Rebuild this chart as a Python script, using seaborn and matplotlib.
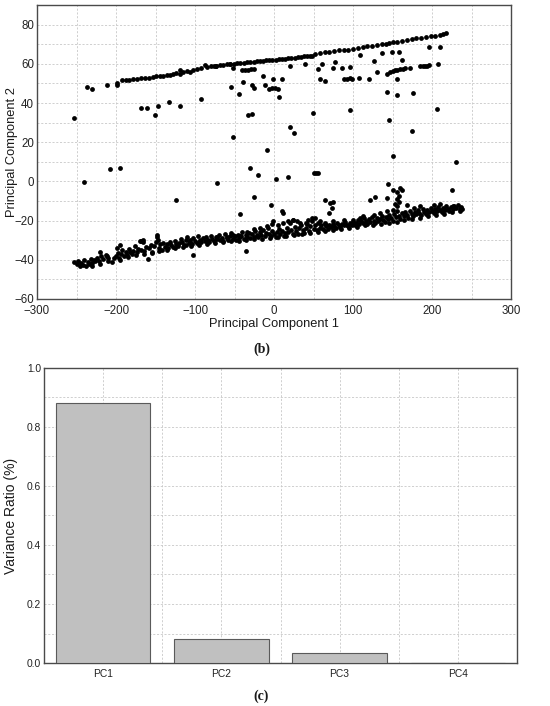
import numpy as np
import pandas as pd
import matplotlib
matplotlib.use("Agg")
import matplotlib.pyplot as plt
from matplotlib.ticker import MultipleLocator
import seaborn as sns

# ---------------- data: PCA scores ----------------
# upper band
upper_x = [-237, -230, -212, -199, -199, -193, -188, -183, -178, -173, -168, -163, -158, -153,
           -149, -144, -140, -136, -132, -128, -124, -119, -119, -115, -110, -106, -102, -98,
           -93, -88, -85, -80, -76, -73, -68, -64, -60, -56, -51, -47, -43, -38, -34, -30,
           -26, -22, -18, -14, -10, -6, -2, 2, 6, 10, 14, 18, 22, 26, 30, 34, 38, 42, 46, 48,
           52, 58, 64, 70, 76, 82, 88, 94, 100, 106, 112, 118, 124, 130, 136, 142, 146, 150,
           156, 162, 168, 174, 180, 186, 192, 198, 204, 210, 214, 218]
upper_y = [48.1, 47.0, 49.0, 50.0, 49.3, 51.5, 51.7, 51.9, 52.0, 52.3, 52.6, 52.9, 53.0, 53.2,
           53.7, 53.9, 54.0, 54.2, 54.5, 54.8, 55.2, 55.0, 57.0, 55.8, 56.3, 56.0, 57.0, 57.3,
           58.0, 59.4, 58.2, 58.8, 59.1, 59.0, 59.6, 59.4, 59.8, 59.7, 60.1, 60.3, 60.4, 60.6,
           60.8, 60.9, 61.1, 61.2, 61.4, 61.6, 61.7, 61.8, 62.0, 62.1, 62.3, 62.4, 62.6, 62.8,
           63.0, 63.1, 63.3, 63.5, 63.8, 64.0, 64.2, 64.0, 65.0, 65.5, 65.8, 66.0, 66.3, 66.8,
           67.0, 67.3, 67.6, 68.0, 68.5, 69.0, 69.2, 69.5, 70.0, 70.3, 70.6, 71.0, 71.3, 71.7,
           72.2, 72.5, 73.0, 73.3, 73.5, 74.0, 74.3, 74.6, 75.0, 75.6]

# outliers and secondary branch
mid_x = [-73, -56, -51.5, -40, -37, -33, -29, -26, -253.5, -240, -208, -195, -168, -161, -151,
         -147.5, -133, -119, -124.6, -92.5, -103, -72, -55, -45, -51.5, -42.7, -39, -32.5, -28,
         -30, -26, -20, -35.5, -28, -26, -13.5, -12, -6, -3, 1.3, 4.6, -1.7, 9.7, 6.8, -9.3,
         -4.2, 2, 9.7, 11, 18.2, 20.3, 25.3, 20.3, 39.3, 49, 50, 53, 56, 56, 58, 64.6, 60.4,
         64.6, 71, 75, 73, 69, 77, 75, 86, 88, 92, 96, 98.4, 107, 96.3, 95.5, 109, 119.6, 126,
         130, 136.5, 143, 147, 150, 153, 156, 160, 163, 166, 149, 157.6, 162, 155, 143, 156,
         171.5, 176, 174.5, 145, 150, 144, 143, 122, 128, 185, 188, 191, 194, 196, 196, 208,
         209.5, 206, 225, 230, 151, 155, 160, 162, 157.6, 155, 157.6, 153]
mid_y = [59.0, 59.7, 58.0, 57.0, 56.8, 57.0, 57.2, 57.2, 32.1, -0.5, 6.5, 6.8, 37.5, 37.5,
         34.0, 38.4, 40.4, 38.7, -9.4, 42.1, -37.7, -0.8, 48.1, 44.7, 22.5, -16.5, 50.7, 34.1,
         34.5, 6.7, -8.0, 3.1, -35.3, 49.0, 47.8, 54.0, 49.0, 47.0, 47.8, 47.8, 47.3, 52.0,
         52.5, 43.2, 16.0, -11.9, 1.2, -15.3, -16.2, 2.1, 27.8, 24.7, 58.9, 59.7, 35.0, 4.2,
         4.2, 4.2, 57.5, 52.0, 51.2, 59.7, -9.4, -11.0, -10.7, -13.6, -16.2, 60.9, 58.0, 58.0,
         52.4, 52.5, 52.6, 52.5, 52.9, 58.5, 36.2, 64.3, 52.5, 61.4, 55.8, 65.7, 55.0, 56.0,
         56.3, 56.6, 56.8, 57.1, 57.5, 58.0, 66.0, 66.0, 61.7, 52.4, 45.5, 44.3, 58.0, 44.9,
         25.6, 31.2, 13.2, -1.2, -8.5, -9.4, -8.2, 58.9, 59.0, 59.0, 58.8, 59.2, 68.7, 59.7,
         68.7, 36.7, -4.6, 9.7, -4.2, -5.2, -3.5, -4.2, -7.4, -9.1, -10.4, -11.6]

# lower band
low_x = [-253, -250, -248, -246, -244, -242, -240, -238, -236, -234, -232, -230, -228, -226,
         -224, -222, -219, -216, -213, -210, -205, -202, -200, -198, -196, -194, -192, -190,
         -188, -186, -184, -182, -180, -178, -176, -174, -172, -170, -168, -166, -164, -162,
         -160, -158, -156, -154, -152, -150, -148, -147, -146, -144, -142, -140, -138, -136,
         -134, -132, -130, -128, -126, -124, -122, -120, -118, -116, -114, -112, -110, -108,
         -106, -104, -102, -100, -98, -96, -94, -92, -90, -88, -86, -84, -82, -80, -78, -76,
         -74, -72, -70, -68, -66, -64, -62, -60, -58, -56, -54, -52, -50, -48, -46, -44, -42,
         -40, -38, -36, -34, -32, -30, -28, -26, -24, -22, -20, -18, -16, -14, -12, -10, -8,
         -6, -4, -2, 0, 2, 4, 6, 8, 10, 12, 14, 16, 18, 20, 22, 24, 26, 28, 30, 32, 34, 36, 38,
         40, 42, 44, 46, 48, 50, 52, 54, 56, 58, 60, 62, 64, 66, 68, 70, 72, 74, 76, 78, 80,
         82, 84, 86, 88, 90, 92, 94, 96, 98, 100, 102, 104, 106, 108, 110, 112, 114, 116, 118,
         120, 122, 124, 126, 128, 130, 132, 134, 136, 138, 140, 142, 144, 146, 148, 150, 152,
         154, 156, 158, 160, 162, 164, 166, 168, 170, 172, 174, 176, 178, 180, 182, 184, 186,
         188, 190, 192, 194, 196, 198, 200, 202, 204, 206, 208, 210, 212, 214, 216, 218, 220,
         222, 224, 226, 228, 230, 233, 236, 238]
low_y = [-41, -42, -40.5, -43, -41.5, -42.5, -40, -43, -41, -42, -39.5, -41.5, -40, -40.5,
         -39, -40.5, -38, -39.5, -37.5, -39, -41, -39, -38, -36.5, -39, -37, -35, -38, -36,
         -37.5, -34.5, -36, -37, -35.5, -33, -36, -34.5, -30.5, -35, -31, -35.5, -33.5, -39.5,
         -34, -32.5, -36.5, -33, -31, -27.5, -30, -34, -32, -35, -31.5, -33.5, -32, -34, -31,
         -32.5, -33.5, -30.5, -32, -33, -31.5, -29.5, -31, -32.5, -30, -28.5, -31.5, -30, -32,
         -29, -30.5, -31.5, -28, -30, -31, -29, -30.5, -28.5, -30, -31, -28, -29.5, -30.5,
         -28.5, -29.5, -27.5, -30, -29, -30.5, -27, -29, -30, -28, -26.5, -29.5, -28, -30,
         -27.5, -29, -28, -26, -29.5, -27.5, -28.5, -26.5, -29, -27, -28.5, -25.5, -27.5, -28.5,
         -26, -27.5, -25, -28, -26.5, -24, -27, -28, -25.5, -27, -28.5, -26, -24.5, -27, -25.5,
         -28, -26.5, -24, -26, -21, -25, -27, -23.5, -25.5, -27, -24, -22, -25, -26.5, -24,
         -21.5, -25.5, -23, -20, -24.5, -22.5, -25, -21, -24, -22.5, -24.5, -21.5, -23, -24.5,
         -22, -23.5, -21.5, -23, -24, -21, -22.5, -23.5, -21.5, -22.5, -20.5, -22, -23, -21,
         -22, -20.5, -22.5, -21, -19.5, -21.5, -20, -21, -18.5, -20, -21.5, -19, -20.5, -18,
         -20, -21, -18.5, -20, -19, -17.5, -19.5, -20.5, -18, -19, -17, -18.5, -20, -16.5, -18,
         -15, -17.5, -19, -16, -17.5, -15.5, -17, -18.5, -15, -16.5, -17.5, -15.5, -16.5,
         -14.5, -16, -17, -14, -15.5, -16.5, -14.5, -15.5, -13.5, -15, -16, -14, -15, -13,
         -14.5, -15.5, -13.5, -14.5, -12.5, -14, -15, -13, -14, -12.5, -13.5, -12, -13, -14]

edge_x = [-230, -220, -210, -195, -185, -175, -165, -155, -145, -135, -125, -115, -105, -95,
          -85, -75, -65, -55, -45, -35, -25, -15, -5, 5, 15, 25, 35, 45, 55, 65, 75, 85, 95,
          105, 115, 125, 135, 145, 155, 165, 175, 185, 195, 205, 215, 225, 235,
          -199, -195, -220.5, -212, -148, -165.6, -168, -111, -106.5, -94, -72.7, -60, -51.5,
          -43, -34.6, -26, -17.7, -9.3, -3, 5.5, 11.8, 18, 24.5, 33, 43.5, 47.7, 58, 64.6, 75,
          88, 100.5, -1, 23.7, 28.7, 41, 52, 109, 113, 126, 134, 143, 151, 155, 168, 176.6, 185,
          202, 210, 227, 235]
edge_y = [-43, -42, -40.5, -40, -38.5, -37.5, -37, -36, -35.5, -35, -34, -33.5, -33, -32.5,
          -32, -31.5, -31, -30.5, -30.5, -30, -29.5, -29.5, -29, -28.5, -28, -27.5, -27, -26.5,
          -26, -25.5, -25, -24.5, -24, -23.5, -22.5, -22, -21.5, -21, -20.5, -19.5, -19, -18.5,
          -17.5, -17, -16.5, -15.5, -15,
          -34, -32.4, -35.8, -38.3, -28.5, -29.8, -30.2, -32.4, -30.7, -30.2, -28.5, -28.5,
          -27.3, -28, -25.6, -24.4, -23.9, -23, -21.6, -22.1, -21.3, -20.4, -19.6, -21, -19.6,
          -18.7, -20.4, -21.3, -20.4, -19.9, -19.6, -20.4, -19.6, -20.4, -21.3, -18.7, -18.7,
          -17.9, -17, -16.2, -15.3, -14.5, -12.8, -11.9, -13.6, -12.8, -11.9, -11.4, -12.8, -14]

# explained variance ratio
pcs = ["PC1", "PC2", "PC3", "PC4"]
ratios = [0.882, 0.082, 0.033, 0.0005]

# ---------------- plotting ----------------
sns.set_theme(style="white")
plt.rcParams["font.family"] = ["Liberation Sans", "DejaVu Sans"]
plt.rcParams["text.color"] = "#1a1a1a"
plt.rcParams["axes.labelcolor"] = "#1a1a1a"

scores = pd.DataFrame({
    "pc1": upper_x + mid_x + low_x + edge_x,
    "pc2": upper_y + mid_y + low_y + edge_y,
})
var_df = pd.DataFrame({"pc": pcs, "ratio": ratios})

fig = plt.figure(figsize=(5.5, 7.06), dpi=100)
ax1 = fig.add_axes([0.0673, 0.5765, 0.862, 0.4164])
ax2 = fig.add_axes([0.080, 0.0609, 0.860, 0.4179])

grid_kw = dict(color="#c8c8c8", linestyle=(0, (2.5, 2)), linewidth=0.6)
spine_col = "#4a4a4a"

# scatter
sns.scatterplot(data=scores, x="pc1", y="pc2", ax=ax1, color="black", s=12,
                linewidth=0, zorder=3)
ax1.set_xlim(-300, 300)
ax1.set_ylim(-60, 90)
ax1.xaxis.set_major_locator(MultipleLocator(100))
ax1.xaxis.set_minor_locator(MultipleLocator(50))
ax1.yaxis.set_major_locator(MultipleLocator(20))
ax1.yaxis.set_minor_locator(MultipleLocator(10))
ax1.set_yticks([-60, -40, -20, 0, 20, 40, 60, 80])
ax1.grid(True, which="both", **grid_kw)
ax1.set_xlabel("Principal Component 1", fontsize=9.3, labelpad=1)
ax1.set_ylabel("Principal Component 2", fontsize=9.3)
ax1.yaxis.set_label_coords(-0.041, 0.5)

# bars
sns.barplot(data=var_df, x="pc", y="ratio", ax=ax2, color="#c0c0c0",
            edgecolor="#5a5a5a", linewidth=0.8, width=0.8, saturation=1, zorder=3)
ax2.set_xlim(-0.5, 3.5)
ax2.set_ylim(0, 1.0)
ax2.yaxis.set_major_locator(MultipleLocator(0.2))
ax2.yaxis.set_minor_locator(MultipleLocator(0.1))
ax2.xaxis.set_minor_locator(MultipleLocator(0.5))
ax2.grid(True, which="both", **grid_kw)
ax2.set_xlabel("")
ax2.set_ylabel("Variance Ratio (%)", fontsize=10)
ax2.yaxis.set_label_coords(-0.055, 0.5)

for ax in (ax1, ax2):
    ax.set_axisbelow(True)
    for sp in ax.spines.values():
        sp.set_color(spine_col)
        sp.set_linewidth(1.0)
    ax.tick_params(which="major", direction="in", length=3, width=0.7,
                   colors="#333333", labelsize=8.3, pad=2)
    ax.tick_params(which="minor", direction="in", length=0)
    for lab in ax.get_xticklabels() + ax.get_yticklabels():
        lab.set_color("#222222")
ax1.tick_params(axis="x", pad=4)
ax2.tick_params(axis="both", labelsize=7.4)
ax2.tick_params(axis="x", pad=4)

fig.text(0.476, 0.5057, "(b)", ha="center", va="center", fontsize=10,
         family="Liberation Serif", weight="bold")
fig.text(0.475, 0.0142, "(c)", ha="center", va="center", fontsize=10,
         family="Liberation Serif", weight="bold")

fig.savefig("out.png", dpi=100)
